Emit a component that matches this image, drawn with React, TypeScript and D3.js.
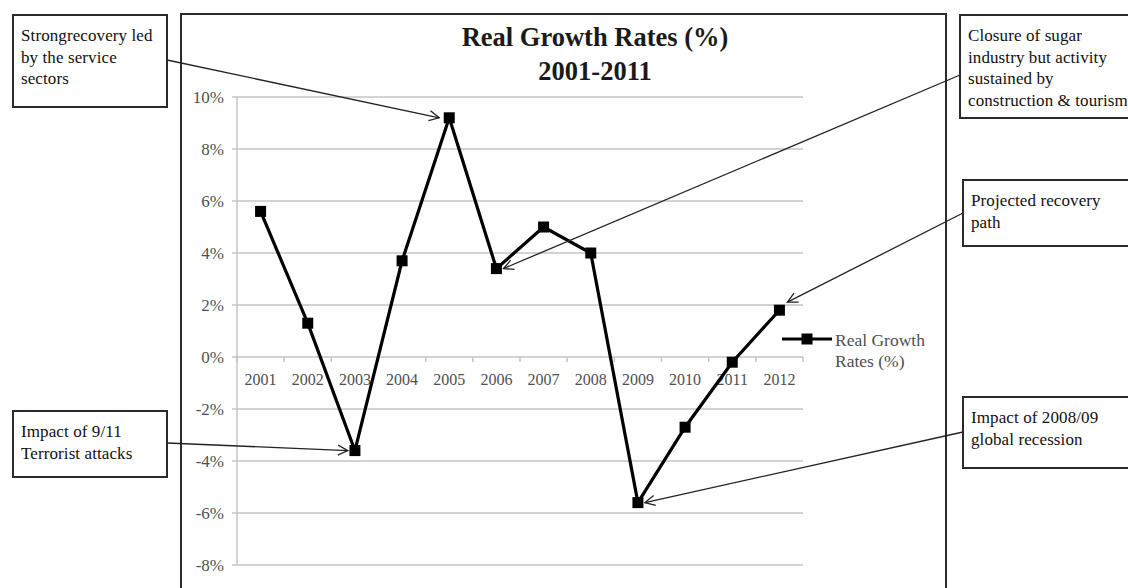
import React from "react";
import * as d3 from "d3";

// Real growth rates by year (%)
const years = ["2001", "2002", "2003", "2004", "2005", "2006", "2007", "2008", "2009", "2010", "2011", "2012"];
const growth = [5.6, 1.3, -3.6, 3.7, 9.2, 3.4, 5.0, 4.0, -5.6, -2.7, -0.2, 1.8];
const yTicks = [10, 8, 6, 4, 2, 0, -2, -4, -6, -8];
const titleLines = ["Real Growth Rates (%)", "2001-2011"];
const legendLines = ["Real Growth", "Rates (%)"];

// Callout boxes and the year each one points at
const notes = [
  { lines: ["Strongrecovery led", "by the service", "sectors"], year: "2005", box: [13, 15, 154, 92], from: [167, 60], tip: [-10, 0] },
  { lines: ["Closure of sugar", "industry but activity", "sustained by", "construction & tourism"], year: "2006", box: [960, 15, 175, 103], from: [960, 75], tip: [7, 0] },
  { lines: ["Projected recovery", "path"], year: "2012", box: [963, 180, 170, 66], from: [963, 213], tip: [8, -8] },
  { lines: ["Impact of 9/11", "Terrorist attacks"], year: "2003", box: [13, 411, 154, 66], from: [167, 443], tip: [-7, 0] },
  { lines: ["Impact of 2008/09", "global recession"], year: "2009", box: [963, 397, 170, 71], from: [963, 432], tip: [7, 0] },
];

const W = 1128;
const H = 588;
const plot = { left: 237, right: 803, top: 97, bottom: 565 };

export default function App() {
  const x = d3.scaleBand<string>().domain(years).range([plot.left, plot.right]);
  const y = d3.scaleLinear().domain([-8, 10]).range([plot.bottom, plot.top]);
  const cx = (yr: string) => (x(yr) as number) + x.bandwidth() / 2;
  const line = d3
    .line<number>()
    .x((_, i) => cx(years[i]))
    .y((d) => y(d));

  const serif = "'Liberation Serif', 'Times New Roman', serif";
  const grid = "#c4c4c4";
  const labelColor = "#505050";
  const mk = 11;

  return (
    <svg width={W} height={H} style={{ position: "absolute", left: 0, top: 0, background: "#fff" }}>
      <defs>
        <marker id="openArrow" viewBox="0 0 12 12" refX="11" refY="6" markerWidth="12" markerHeight="12" markerUnits="userSpaceOnUse" orient="auto">
          <path d="M1,1 L11,6 L1,11" fill="none" stroke="#222" strokeWidth={1.3} />
        </marker>
      </defs>

      {/* chart frame */}
      <rect x={181} y={14} width={765} height={600} fill="none" stroke="#2a2a2a" strokeWidth={2} />

      {/* title */}
      {titleLines.map((t, i) => (
        <text key={t} x={595} y={46 + i * 34} textAnchor="middle" fontFamily={serif} fontWeight="bold" fontSize={26.5} fill="#1a1a1a">
          {t}
        </text>
      ))}

      {/* horizontal gridlines and y labels */}
      {yTicks.map((t) => (
        <g key={t}>
          <line x1={plot.left - 5} x2={plot.right} y1={y(t)} y2={y(t)} stroke={grid} strokeWidth={1.5} />
          <text x={224} y={y(t) + 6} textAnchor="end" fontFamily={serif} fontSize={17} fill={labelColor}>
            {t}%
          </text>
        </g>
      ))}
      <line x1={plot.left} x2={plot.left} y1={plot.top} y2={plot.bottom} stroke={grid} strokeWidth={1.5} />

      {/* category axis along zero */}
      {years.map((yr) => (
        <line key={"t" + yr} x1={x(yr)} x2={x(yr)} y1={y(0)} y2={y(0) + 5} stroke={grid} strokeWidth={1.5} />
      ))}
      <line x1={plot.right} x2={plot.right} y1={y(0)} y2={y(0) + 5} stroke={grid} strokeWidth={1.5} />
      {years.map((yr) => (
        <text key={"l" + yr} x={cx(yr)} y={y(0) + 28} textAnchor="middle" fontFamily={serif} fontSize={16} fill={labelColor}>
          {yr}
        </text>
      ))}

      {/* series */}
      <path d={line(growth) as string} fill="none" stroke="#000" strokeWidth={3.2} strokeLinejoin="miter" />
      {growth.map((v, i) => (
        <rect key={i} x={cx(years[i]) - mk / 2} y={y(v) - mk / 2} width={mk} height={mk} fill="#000" />
      ))}

      {/* legend */}
      <line x1={782} x2={832} y1={339} y2={339} stroke="#000" strokeWidth={3.2} />
      <rect x={807 - mk / 2} y={339 - mk / 2} width={mk} height={mk} fill="#000" />
      {legendLines.map((t, i) => (
        <text key={t} x={835} y={346 + i * 21} fontFamily={serif} fontSize={17.5} fill={labelColor}>
          {t}
        </text>
      ))}

      {/* callouts */}
      {notes.map((n, k) => {
        const i = years.indexOf(n.year);
        const tx = cx(n.year) + n.tip[0];
        const ty = y(growth[i]) + n.tip[1];
        const [bx, by, bw, bh] = n.box;
        return (
          <g key={k}>
            <line x1={n.from[0]} y1={n.from[1]} x2={tx} y2={ty} stroke="#222" strokeWidth={1.3} markerEnd="url(#openArrow)" />
            <rect x={bx} y={by} width={bw} height={bh} fill="#fff" stroke="#2a2a2a" strokeWidth={2} />
            {n.lines.map((t, j) => (
              <text key={j} x={bx + 8} y={by + 26 + j * 21.5} fontFamily={serif} fontSize={17} fill="#111" letterSpacing={0.1}>
                {t}
              </text>
            ))}
          </g>
        );
      })}
    </svg>
  );
}
